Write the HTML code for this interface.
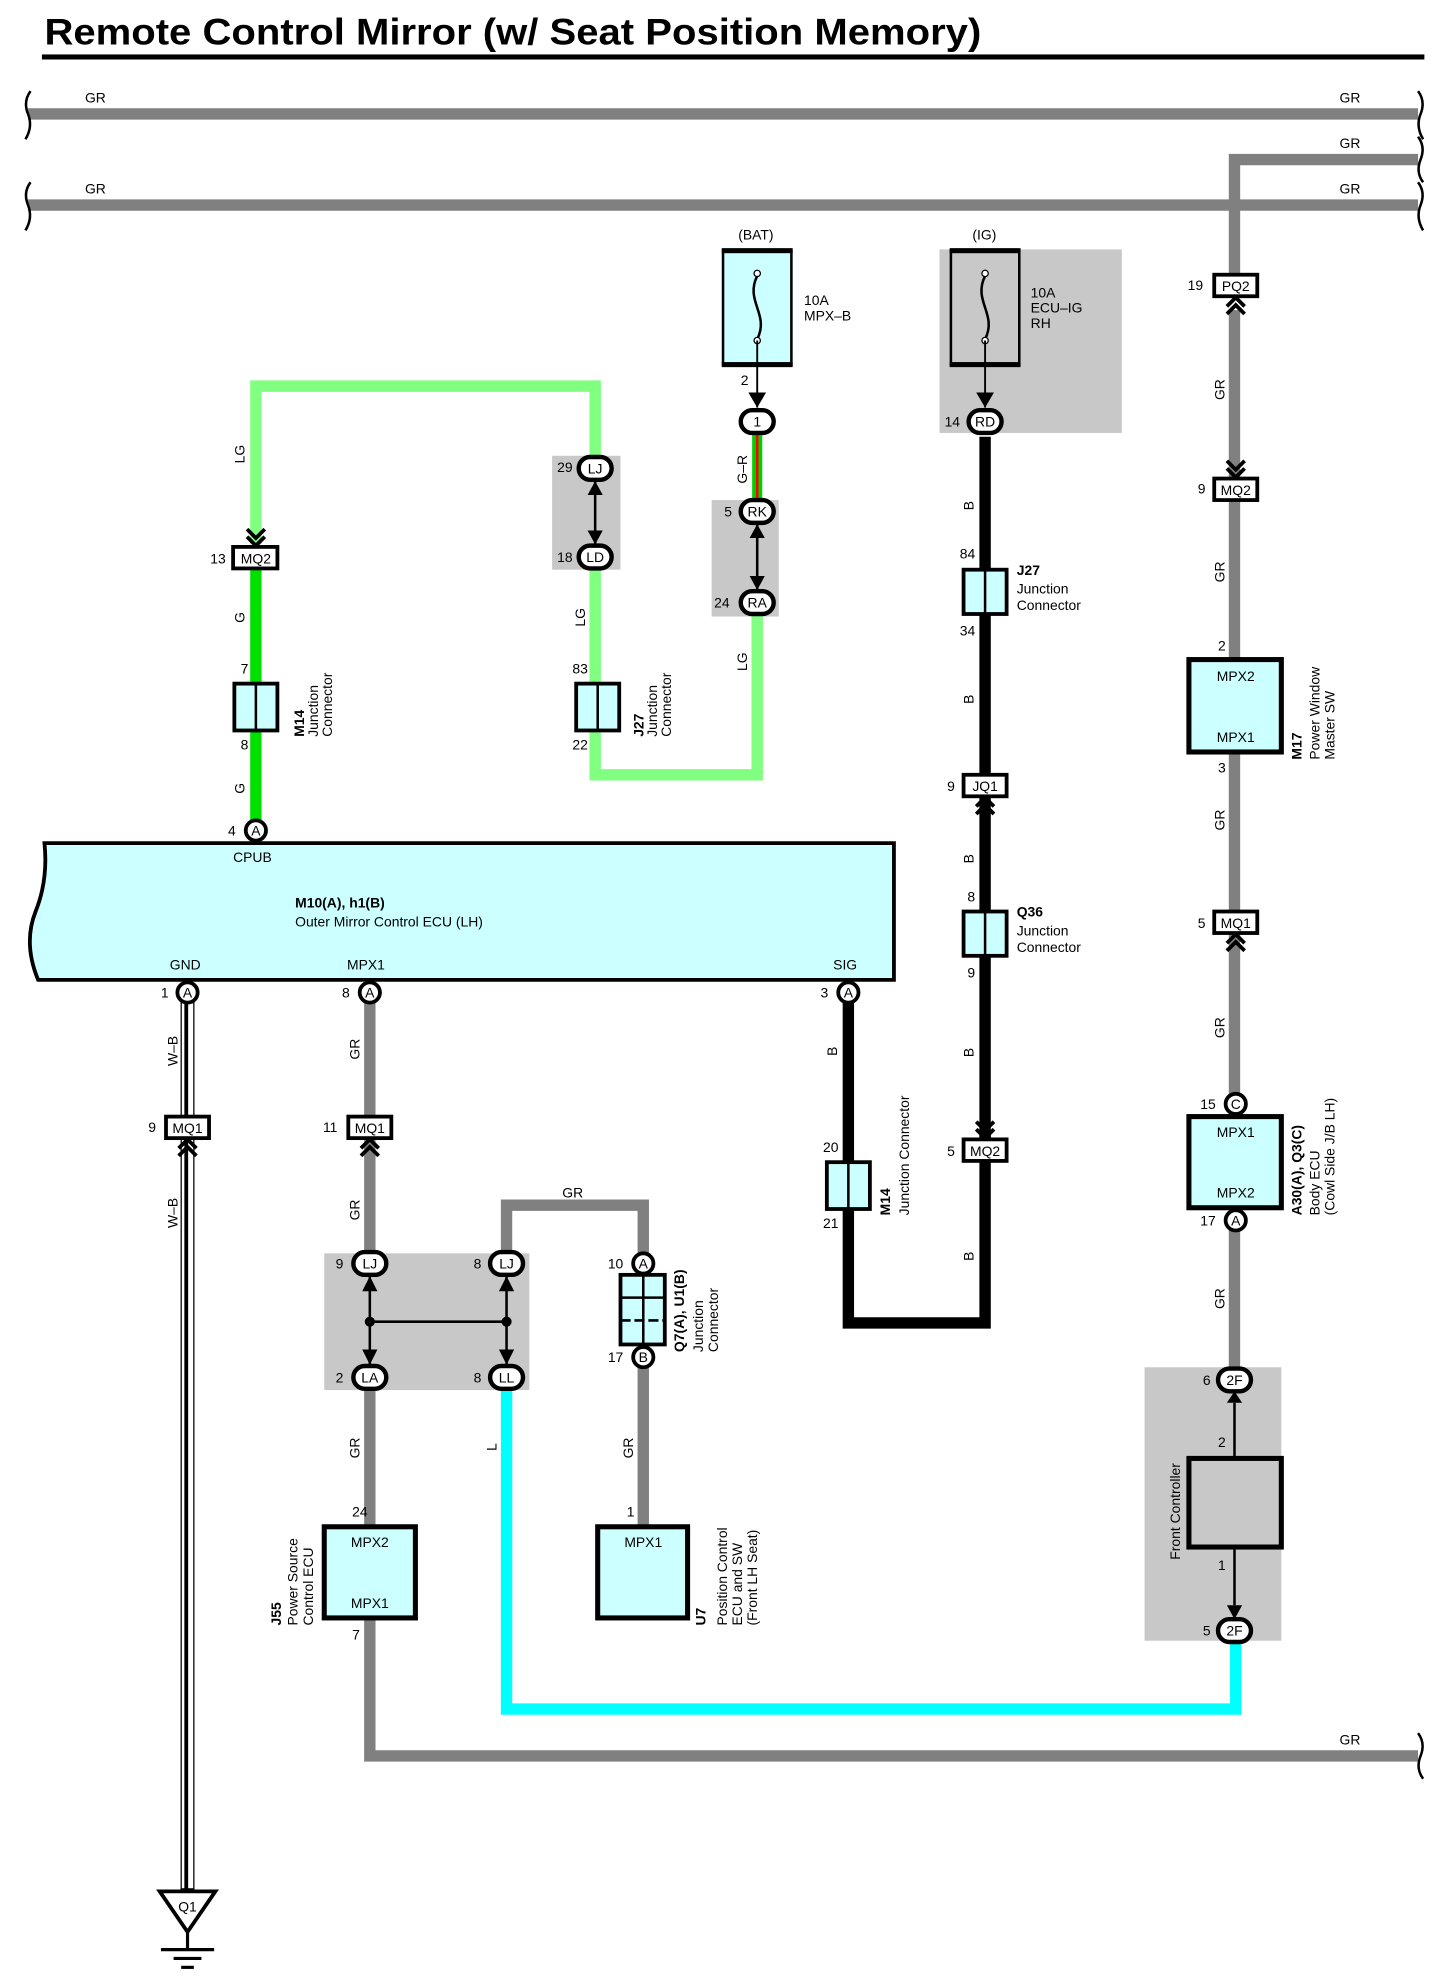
<!DOCTYPE html>
<html><head><meta charset="utf-8"><style>
html,body{margin:0;padding:0;background:#fff}
svg{display:block}
text{font-family:"Liberation Sans",sans-serif;font-size:11px;fill:#000}
.b{font-weight:bold}
</style></head><body>
<svg width="1441" height="1980" viewBox="0 0 1138 1564" xmlns="http://www.w3.org/2000/svg">
<defs>
<g id="chev"><path d="M-7,6 L0,-1 L7,6 M-7,12 L0,5 L7,12" fill="none" stroke="#000" stroke-width="3"/></g>
</defs>
<rect width="1138" height="1564" fill="#fff"/>
<!-- title -->
<text x="35" y="35" class="b" style="font-size:29px" textLength="740" lengthAdjust="spacingAndGlyphs">Remote Control Mirror (w/ Seat Position Memory)</text>
<rect x="33" y="43" width="1092" height="4" fill="#000"/>

<!-- buses -->
<g stroke="#808080" stroke-width="9" fill="none">
<line x1="22" y1="90" x2="1120" y2="90"/>
<line x1="22" y1="162" x2="1120" y2="162"/>
<polyline points="1120,126 975,126 975,220"/>
<line x1="975" y1="245" x2="975" y2="378"/>
<line x1="975" y1="395" x2="975" y2="522"/>
<line x1="975" y1="594" x2="975" y2="720"/>
<line x1="975" y1="737" x2="975" y2="866"/>
<line x1="975" y1="970" x2="975" y2="1082"/>
<line x1="292" y1="792" x2="292" y2="990"/>
<polyline points="292,1096 292,1387 1120,1387"/>
<polyline points="400,990 400,952 508,952 508,990"/>
<line x1="508" y1="1080" x2="508" y2="1206"/>
</g>
<g fill="none" stroke="#000" stroke-width="2">
<path d="M24,72 Q18,80 22,90 Q26,100 20,110"/>
<path d="M24,144 Q18,152 22,162 Q26,172 20,182"/>
<path d="M1120,72 Q1126,80 1122,90 Q1118,100 1124,110"/>
<path d="M1120,108 Q1126,116 1122,126 Q1118,136 1124,144"/>
<path d="M1120,144 Q1126,152 1122,162 Q1118,172 1124,182"/>
<path d="M1120,1369 Q1126,1377 1122,1387 Q1118,1397 1124,1405"/>
</g>
<text x="67" y="81">GR</text><text x="1058" y="81">GR</text><text x="1058" y="117">GR</text>
<text x="67" y="153">GR</text><text x="1058" y="153">GR</text><text x="1058" y="1378">GR</text>

<!-- gray shaded boxes -->
<rect x="742" y="197" width="144" height="145" fill="#c8c8c8"/>
<rect x="436" y="360" width="54" height="90" fill="#c8c8c8"/>
<rect x="562" y="395" width="53" height="92" fill="#c8c8c8"/>
<rect x="256" y="990" width="162" height="108" fill="#c8c8c8"/>
<rect x="904" y="1080" width="108" height="216" fill="#c8c8c8"/>

<!-- LG wires -->
<g stroke="#80ff80" stroke-width="9" fill="none">
<polyline points="202,430 202,305 470,305 470,365"/>
<line x1="470" y1="448" x2="470" y2="540"/>
<polyline points="470,576 470,612 598,612 598,486"/>
</g>
<line x1="202" y1="448" x2="202" y2="650" stroke="#00e000" stroke-width="9"/>
<!-- G-R -->
<line x1="598" y1="340" x2="598" y2="396" stroke="#00d000" stroke-width="8"/>
<line x1="598" y1="340" x2="598" y2="396" stroke="#ff0000" stroke-width="2"/>
<!-- L cyan -->
<polyline points="400,1096 400,1350 976,1350 976,1296" stroke="#00ffff" stroke-width="9" fill="none"/>
<!-- black B -->
<g stroke="#000" stroke-width="9" fill="none">
<polyline points="670,792 670,1045 778,1045 778,893"/>
<line x1="778" y1="345" x2="778" y2="612"/>
<line x1="778" y1="630" x2="778" y2="900"/>
</g>
<!-- W-B double -->
<rect x="143" y="792" width="10" height="700" fill="#fff" stroke="#000" stroke-width="1"/>
<line x1="147" y1="792" x2="147" y2="1492" stroke="#000" stroke-width="3"/>

<!-- fuses -->
<rect x="571" y="198" width="54" height="90" fill="#ccffff" stroke="#000" stroke-width="2"/>
<rect x="570" y="196" width="56" height="4" fill="#000"/><rect x="570" y="286" width="56" height="4" fill="#000"/>
<path d="M598,218 C588,238 608,248 598,268" fill="none" stroke="#000" stroke-width="2"/>
<circle cx="598" cy="216" r="2.5" fill="#fff" stroke="#000"/><circle cx="598" cy="269" r="2.5" fill="#fff" stroke="#000"/>
<text x="583" y="189">(BAT)</text><text x="635" y="241">10A</text><text x="635" y="253">MPX–B</text>
<rect x="751" y="198" width="54" height="90" fill="#c8c8c8" stroke="#000" stroke-width="2"/>
<rect x="750" y="196" width="56" height="4" fill="#000"/><rect x="750" y="286" width="56" height="4" fill="#000"/>
<path d="M778,218 C768,238 788,248 778,268" fill="none" stroke="#000" stroke-width="2"/>
<circle cx="778" cy="216" r="2.5" fill="#fff" stroke="#000"/><circle cx="778" cy="269" r="2.5" fill="#fff" stroke="#000"/>
<text x="768" y="189">(IG)</text><text x="814" y="235">10A</text><text x="814" y="247">ECU–IG</text><text x="814" y="259">RH</text>
<line x1="598" y1="269" x2="598" y2="322" stroke="#000" stroke-width="1.5"/>
<line x1="778" y1="269" x2="778" y2="322" stroke="#000" stroke-width="1.5"/>
<path d="M591,310 L598,322 L605,310 Z" fill="#000"/><path d="M771,310 L778,322 L785,310 Z" fill="#000"/>
<text x="585" y="304">2</text>

<!-- oval connectors -->
<g stroke="#000" stroke-width="3.5" fill="#fff">
<rect x="585" y="324" width="26" height="18" rx="9"/>
<rect x="765" y="324" width="26" height="18" rx="9"/>
<rect x="585" y="395" width="26" height="18" rx="9"/>
<rect x="585" y="467" width="26" height="18" rx="9"/>
<rect x="457" y="361" width="26" height="18" rx="9"/>
<rect x="457" y="431" width="26" height="18" rx="9"/>
<rect x="279" y="989" width="26" height="18" rx="9"/>
<rect x="279" y="1079" width="26" height="18" rx="9"/>
<rect x="387" y="989" width="26" height="18" rx="9"/>
<rect x="387" y="1079" width="26" height="18" rx="9"/>
<rect x="962" y="1081" width="26" height="18" rx="9"/>
<rect x="962" y="1279" width="26" height="18" rx="9"/>
</g>
<g style="font-size:11px" text-anchor="middle">
<text x="598" y="337">1</text><text x="778" y="337">RD</text><text x="598" y="408">RK</text><text x="598" y="480">RA</text>
<text x="470" y="374">LJ</text><text x="470" y="444">LD</text><text x="292" y="1002">LJ</text><text x="292" y="1092">LA</text>
<text x="400" y="1002">LJ</text><text x="400" y="1092">LL</text><text x="975" y="1094">2F</text><text x="975" y="1292">2F</text>
</g>
<text x="746" y="337">14</text><text x="572" y="408">5</text><text x="564" y="480">24</text><text x="440" y="373">29</text><text x="440" y="444">18</text>
<text x="265" y="1002">9</text><text x="265" y="1092">2</text><text x="374" y="1002">8</text><text x="374" y="1092">8</text>
<text x="950" y="1094">6</text><text x="950" y="1292">5</text>
<!-- internal arrows -->
<g stroke="#000" stroke-width="2">
<line x1="598" y1="414" x2="598" y2="466"/><line x1="470" y1="380" x2="470" y2="430"/>
<line x1="292" y1="1008" x2="292" y2="1078"/><line x1="400" y1="1008" x2="400" y2="1078"/>
<line x1="292" y1="1044" x2="400" y2="1044"/>
</g>
<g fill="#000">
<path d="M592,425 L598,414 L604,425Z"/><path d="M592,455 L598,466 L604,455Z"/>
<path d="M464,391 L470,380 L476,391Z"/><path d="M464,419 L470,430 L476,419Z"/>
<path d="M286,1020 L292,1008 L298,1020Z"/><path d="M286,1066 L292,1078 L298,1066Z"/>
<path d="M394,1020 L400,1008 L406,1020Z"/><path d="M394,1066 L400,1078 L406,1066Z"/>
<circle cx="292" cy="1044" r="4"/><circle cx="400" cy="1044" r="4"/>
<path d="M969,1108 L975,1099 L981,1108Z"/><path d="M969,1268 L975,1279 L981,1268Z"/>
</g>

<!-- rectangular connectors -->
<g stroke="#000" stroke-width="3" fill="#fff">
<rect x="184" y="432" width="35" height="17"/>
<rect x="959" y="217" width="34" height="17"/>
<rect x="959" y="378" width="34" height="17"/>
<rect x="959" y="720" width="34" height="17"/>
<rect x="761" y="612" width="34" height="17"/>
<rect x="761" y="900" width="34" height="17"/>
<rect x="131" y="882" width="34" height="17"/>
<rect x="275" y="882" width="34" height="17"/>
</g>
<g text-anchor="middle">
<text x="202" y="445">MQ2</text><text x="976" y="230">PQ2</text><text x="976" y="391">MQ2</text><text x="976" y="733">MQ1</text>
<text x="778" y="625">JQ1</text><text x="778" y="913">MQ2</text><text x="148" y="895">MQ1</text><text x="292" y="895">MQ1</text>
</g>
<text x="166" y="445">13</text><text x="938" y="229">19</text><text x="946" y="390">9</text><text x="946" y="733">5</text>
<text x="748" y="625">9</text><text x="748" y="913">5</text><text x="117" y="894">9</text><text x="255" y="894">11</text>
<use href="#chev" x="976" y="236"/><use href="#chev" transform="translate(976,376) scale(1,-1)"/>
<use href="#chev" x="976" y="739"/><use href="#chev" x="778" y="631"/>
<use href="#chev" transform="translate(778,898) scale(1,-1)"/><use href="#chev" transform="translate(202,430) scale(1,-1)"/>
<use href="#chev" x="148" y="901"/><use href="#chev" x="292" y="901"/>

<!-- junction connectors -->
<g stroke="#000" stroke-width="3" fill="#ccffff">
<rect x="185" y="540" width="34" height="37"/><rect x="455" y="540" width="34" height="37"/>
<rect x="761" y="450" width="34" height="35"/><rect x="761" y="720" width="34" height="35"/>
<rect x="653" y="918" width="34" height="37"/>
<rect x="490" y="1007" width="35" height="55"/>
</g>
<g stroke="#000" stroke-width="2">
<line x1="202" y1="540" x2="202" y2="577"/><line x1="472" y1="540" x2="472" y2="577"/>
<line x1="778" y1="450" x2="778" y2="485"/><line x1="778" y1="720" x2="778" y2="755"/>
<line x1="670" y1="918" x2="670" y2="955"/>
<line x1="508" y1="1007" x2="508" y2="1062"/><line x1="490" y1="1025" x2="525" y2="1025"/>
<line x1="490" y1="1043" x2="525" y2="1043" stroke-dasharray="8,3"/>
</g>
<text x="190" y="532">7</text><text x="190" y="592">8</text><text x="452" y="532">83</text><text x="452" y="592">22</text>
<text x="758" y="441">84</text><text x="758" y="502">34</text><text x="764" y="712">8</text><text x="764" y="772">9</text>
<text x="650" y="910">20</text><text x="650" y="970">21</text>

<!-- circle pins -->
<g stroke="#000" stroke-width="3" fill="#fff">
<circle cx="202" cy="656" r="8"/><circle cx="148" cy="784" r="8"/><circle cx="292" cy="784" r="8"/><circle cx="670" cy="784" r="8"/>
<circle cx="508" cy="998" r="8"/><circle cx="508" cy="1072" r="8"/><circle cx="976" cy="872" r="8"/><circle cx="976" cy="964" r="8"/>
</g>
<g text-anchor="middle" style="font-size:10px">
<text x="202" y="660">A</text><text x="148" y="788">A</text><text x="292" y="788">A</text><text x="670" y="788">A</text>
<text x="508" y="1002">A</text><text x="508" y="1076">B</text><text x="976" y="876">C</text><text x="976" y="968">A</text>
</g>
<text x="180" y="660">4</text><text x="127" y="788">1</text><text x="270" y="788">8</text><text x="648" y="788">3</text>
<text x="480" y="1002">10</text><text x="480" y="1076">17</text><text x="948" y="876">15</text><text x="948" y="968">17</text>

<!-- ECU -->
<path d="M35,666 L706,666 L706,774 L30,774 Q18,745 28,720 Q38,695 35,666 Z" fill="#ccffff" stroke="#000" stroke-width="3"/>
<text x="184" y="681">CPUB</text>
<text x="233" y="717" class="b">M10(A), h1(B)</text><text x="233" y="732">Outer Mirror Control ECU (LH)</text>
<text x="134" y="766">GND</text><text x="274" y="766">MPX1</text><text x="658" y="766">SIG</text>

<!-- component boxes -->
<g stroke="#000" stroke-width="4" fill="#ccffff">
<rect x="939" y="521" width="73" height="73"/><rect x="939" y="882" width="73" height="72"/>
<rect x="256" y="1206" width="72" height="72"/><rect x="472" y="1206" width="71" height="72"/>
</g>
<rect x="939" y="1152" width="73" height="70" fill="#c8c8c8" stroke="#000" stroke-width="4"/>
<line x1="975" y1="1108" x2="975" y2="1152" stroke="#000" stroke-width="2"/>
<line x1="975" y1="1222" x2="975" y2="1268" stroke="#000" stroke-width="2"/>
<g fill="#333" text-anchor="middle">
<text x="976" y="538">MPX2</text><text x="976" y="586">MPX1</text><text x="976" y="898">MPX1</text><text x="976" y="946">MPX2</text>
<text x="292" y="1222">MPX2</text><text x="292" y="1270">MPX1</text><text x="508" y="1222">MPX1</text>
</g>
<text x="962" y="514">2</text><text x="962" y="610">3</text><text x="278" y="1198">24</text><text x="278" y="1295">7</text>
<text x="495" y="1198">1</text><text x="962" y="1143">2</text><text x="962" y="1240">1</text>

<!-- rotated labels -->
<g>
<text transform="translate(240,582) rotate(-90)"><tspan class="b">M14</tspan></text>
<text transform="translate(251,582) rotate(-90)">Junction</text><text transform="translate(262,582) rotate(-90)">Connector</text>
<text transform="translate(508,582) rotate(-90)"><tspan class="b">J27</tspan></text>
<text transform="translate(519,582) rotate(-90)">Junction</text><text transform="translate(530,582) rotate(-90)">Connector</text>
<text transform="translate(1028,600) rotate(-90)" class="b">M17</text>
<text transform="translate(1042,600) rotate(-90)">Power Window</text><text transform="translate(1054,600) rotate(-90)">Master SW</text>
<text transform="translate(1028,960) rotate(-90)" class="b">A30(A), Q3(C)</text>
<text transform="translate(1042,960) rotate(-90)">Body ECU</text><text transform="translate(1054,960) rotate(-90)">(Cowl Side J/B LH)</text>
<text transform="translate(703,960) rotate(-90)" class="b">M14</text><text transform="translate(718,960) rotate(-90)">Junction Connector</text>
<text transform="translate(540,1068) rotate(-90)" class="b">Q7(A), U1(B)</text>
<text transform="translate(555,1068) rotate(-90)">Junction</text><text transform="translate(567,1068) rotate(-90)">Connector</text>
<text transform="translate(222,1284) rotate(-90)" class="b">J55</text>
<text transform="translate(235,1284) rotate(-90)">Power Source</text><text transform="translate(247,1284) rotate(-90)">Control ECU</text>
<text transform="translate(557,1284) rotate(-90)" class="b">U7</text>
<text transform="translate(574,1284) rotate(-90)">Position Control</text><text transform="translate(586,1284) rotate(-90)">ECU and SW</text>
<text transform="translate(598,1284) rotate(-90)">(Front LH Seat)</text>
<text transform="translate(932,1232) rotate(-90)">Front Controller</text>
</g>
<text x="803" y="454" class="b">J27</text><text x="803" y="469">Junction</text><text x="803" y="482">Connector</text>
<text x="803" y="724" class="b">Q36</text><text x="803" y="739">Junction</text><text x="803" y="752">Connector</text>

<!-- wire color labels -->
<g>
<text transform="translate(193,366) rotate(-90)">LG</text><text transform="translate(193,492) rotate(-90)">G</text>
<text transform="translate(193,627) rotate(-90)">G</text><text transform="translate(462,495) rotate(-90)">LG</text>
<text transform="translate(590,530) rotate(-90)">LG</text><text transform="translate(590,382) rotate(-90)">G–R</text>
<text transform="translate(769,403) rotate(-90)">B</text><text transform="translate(769,556) rotate(-90)">B</text>
<text transform="translate(769,682) rotate(-90)">B</text><text transform="translate(769,835) rotate(-90)">B</text>
<text transform="translate(769,996) rotate(-90)">B</text><text transform="translate(661,834) rotate(-90)">B</text>
<text transform="translate(967,316) rotate(-90)">GR</text><text transform="translate(967,460) rotate(-90)">GR</text>
<text transform="translate(967,656) rotate(-90)">GR</text><text transform="translate(967,820) rotate(-90)">GR</text>
<text transform="translate(967,1034) rotate(-90)">GR</text>
<text transform="translate(284,837) rotate(-90)">GR</text><text transform="translate(284,964) rotate(-90)">GR</text>
<text transform="translate(284,1152) rotate(-90)">GR</text><text transform="translate(500,1152) rotate(-90)">GR</text>
<text transform="translate(392,1146) rotate(-90)">L</text>
<text transform="translate(140,842) rotate(-90)">W–B</text><text transform="translate(140,970) rotate(-90)">W–B</text>
</g>
<text x="444" y="946">GR</text>

<!-- ground -->
<path d="M126,1494 L170,1494 L148,1526 Z" fill="#fff" stroke="#000" stroke-width="3"/>
<text x="148" y="1510" text-anchor="middle">Q1</text>
<g stroke="#000" stroke-width="2.5">
<line x1="148" y1="1526" x2="148" y2="1540"/><line x1="127" y1="1540" x2="169" y2="1540"/>
<line x1="137" y1="1547" x2="159" y2="1547"/><line x1="143" y1="1554" x2="153" y2="1554"/>
</g>
</svg>
</body></html>
